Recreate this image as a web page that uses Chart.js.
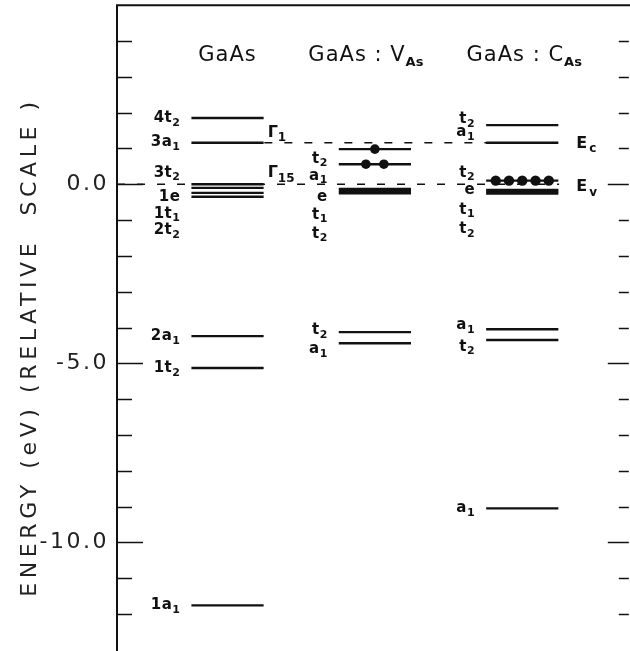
<!DOCTYPE html>
<html>
<head>
<meta charset="utf-8">
<script src="https://cdn.jsdelivr.net/npm/chart.js@4.4.1/dist/chart.umd.min.js"></script>
<style>
  html, body { margin: 0; padding: 0; background: #fff; overflow: hidden; }
  #wrap { position: absolute; left: 0; top: 0; width: 634px; height: 655px; }
</style>
</head>
<body>
<div id="wrap"><canvas id="levels" width="634" height="655"></canvas></div>
<script>
// --- data (energies in eV) ---
const columnTitles = ["GaAs", "GaAs : V", "GaAs : C"];
const columnSubs = ["", "As", "As"];

const gaasLevels = [1.85, 1.16, 0.0, -0.1, -0.24, -0.35, -4.24, -5.13, -11.76];
const vasLevels = [0.98, 0.56, -0.13, -0.19, -0.25, -4.13, -4.44];
const casLevels = [1.65, 1.16, 0.10, -0.16, -0.21, -0.26, -4.05, -4.35, -9.05];

// occupied gap levels and number of electrons (dots)
const vasFilled = [0.98, 0.56];
const vasElectrons = [1, 2];
const casFilled = [0.10];
const casElectrons = [5];

const ecLevel = 1.16;
const evLevel = 0.0;

const yTickValues = [0, -5, -10];
const yTickLabels = ["0.0", "-5.0", "-10.0"];

// level labels: [symbol, subscript, energy where the label sits]
const gaasLabels = [
  ["4t", "2", 1.85], ["3a", "1", 1.18], ["3t", "2", 0.32], ["1e", "", -0.35],
  ["1t", "1", -0.82], ["2t", "2", -1.29], ["2a", "1", -4.24], ["1t", "2", -5.13],
  ["1a", "1", -11.76]
];
const vasLabels = [
  ["t", "2", 0.71], ["a", "1", 0.24], ["e", "", -0.35], ["t", "1", -0.85],
  ["t", "2", -1.38], ["t", "2", -4.07], ["a", "1", -4.6]
];
const casLabels = [
  ["t", "2", 1.82], ["a", "1", 1.46], ["t", "2", 0.32], ["e", "", -0.15],
  ["t", "1", -0.71], ["t", "2", -1.26], ["a", "1", -3.93], ["t", "2", -4.54],
  ["a", "1", -9.04]
];

// --- layout helpers ---
const HALF = 0.245;        // half width of a level bar, in column units
const INK = "#111";
const FONT = '"DejaVu Sans", sans-serif';

function levelLine(col, e) {
    return {
        type: "line",
        data: [{ x: col - HALF, y: e }, { x: col + HALF, y: e }],
        borderColor: INK,
        borderWidth: 2.4,
        pointRadius: 0,
        order: 2
    };
}

function dots(col, energies, counts, spacing, r) {
    const pts = [];
    energies.forEach((e, k) => {
        const n = counts[k];
        for (let i = 0; i < n; i++) pts.push({ x: col + (i - (n - 1) / 2) * spacing, y: e });
    });
    return {
        type: "scatter",
        data: pts,
        pointRadius: r,
        pointBackgroundColor: INK,
        pointBorderWidth: 0,
        order: 0
    };
}

function dashed(x0, x1, e) {
    return {
        type: "line",
        data: [{ x: x0, y: e }, { x: x1, y: e }],
        borderColor: INK,
        borderWidth: 1.4,
        borderDash: [8, 12],
        pointRadius: 0,
        order: 3
    };
}

const datasets = [];
datasets.push(dashed(-0.75, 2.25, evLevel));
datasets.push(dashed(0.25, 2.25, ecLevel));
[gaasLevels, vasLevels, casLevels].forEach((lv, col) => lv.forEach(e => datasets.push(levelLine(col, e))));
datasets.push(dots(1, vasFilled, vasElectrons, 0.122, 4.8));
datasets.push(dots(2, casFilled, casElectrons, 0.09, 5.2));

function rich(ctx, x, y, base, sub, size, align, weight, spacing) {
    const subSize = Math.round(size * 0.72);
    ctx.letterSpacing = (spacing || 0) + "px";
    ctx.font = `${weight} ${size}px ${FONT}`;
    const wb = ctx.measureText(base).width;
    ctx.font = `${weight} ${subSize}px ${FONT}`;
    const ws = sub ? ctx.measureText(sub).width : 0;
    let x0 = x;
    if (align === "right") x0 = x - wb - ws;
    else if (align === "center") x0 = x - (wb + ws) / 2;
    ctx.textAlign = "left";
    ctx.textBaseline = "middle";
    ctx.font = `${weight} ${size}px ${FONT}`;
    ctx.fillText(base, x0, y);
    if (sub) {
        ctx.font = `${weight} ${subSize}px ${FONT}`;
        ctx.fillText(sub, x0 + wb, y + size * 0.32);
    }
}

const titleNudge = [0, -9, 2];

const decor = {
    id: "decor",
    beforeDraw(chart) {
        // wide lettering for the axis numbers
        chart.ctx.letterSpacing = "2.5px";
    },
    afterDraw(chart) {
        const { ctx, chartArea: a, scales: { x, y } } = chart;
        ctx.save();
        ctx.letterSpacing = "0px";
        ctx.strokeStyle = INK;
        ctx.fillStyle = INK;

        // frame: left and top
        ctx.lineWidth = 2;
        ctx.beginPath();
        ctx.moveTo(a.left, a.bottom + 5);
        ctx.lineTo(a.left, a.top);
        ctx.lineTo(a.right + 5, a.top);
        ctx.stroke();

        // inward ticks on both sides
        ctx.lineWidth = 1.4;
        y.ticks.forEach(t => {
            if (t.value <= y.min || t.value >= y.max) return;
            const py = Math.round(y.getPixelForValue(t.value)) + 0.5;
            const major = yTickValues.includes(t.value);
            ctx.beginPath();
            ctx.moveTo(a.left, py);
            ctx.lineTo(a.left + (major ? 26 : 15), py);
            ctx.moveTo(a.right, py);
            ctx.lineTo(a.right - (major ? 21 : 10), py);
            ctx.stroke();
        });

        // column titles
        const ty = 56;
        columnTitles.forEach((t, col) => {
            const cx = x.getPixelForValue(col) + titleNudge[col];
            ctx.letterSpacing = "1px";
            ctx.font = `21px ${FONT}`;
            const wb = ctx.measureText(t).width;
            let ws = 0;
            if (columnSubs[col]) {
                ctx.font = `bold 13px ${FONT}`;
                ctx.letterSpacing = "0px";
                ws = ctx.measureText(columnSubs[col]).width;
            }
            const x0 = cx - (wb + ws) / 2;
            ctx.textAlign = "left";
            ctx.textBaseline = "middle";
            ctx.letterSpacing = "1px";
            ctx.font = `21px ${FONT}`;
            ctx.fillText(t, x0, ty);
            if (ws) {
                ctx.letterSpacing = "0px";
                ctx.font = `bold 13px ${FONT}`;
                ctx.fillText(columnSubs[col], x0 + wb, ty + 7);
            }
        });

        // level labels, to the left of each column
        [gaasLabels, vasLabels, casLabels].forEach((labels, col) => {
            const lx = x.getPixelForValue(col - HALF) - 11;
            labels.forEach(([b, s, e]) => {
                rich(ctx, lx, y.getPixelForValue(e), b, s, 15, "right", "bold", 0.5);
            });
        });

        // symmetry labels and band edges
        const x0 = x.getPixelForValue(0 + HALF) + 4;
        rich(ctx, x0, y.getPixelForValue(ecLevel) - 10, "\u0393", "1", 16, "left", "bold", 0);
        rich(ctx, x0, y.getPixelForValue(evLevel) - 11, "\u0393", "15", 16, "left", "bold", 0);
        const ex = x.getPixelForValue(2 + HALF) + 18;
        rich(ctx, ex, y.getPixelForValue(ecLevel) + 1, "E", "c", 16, "left", "bold", 2);
        rich(ctx, ex, y.getPixelForValue(evLevel) + 3, "E", "v", 16, "left", "bold", 2);

        // axis title
        ctx.save();
        ctx.translate(30, 347);
        ctx.rotate(-Math.PI / 2);
        ctx.letterSpacing = "4.6px";
        ctx.font = `22px ${FONT}`;
        ctx.textAlign = "center";
        ctx.textBaseline = "middle";
        ctx.fillStyle = "#222";
        ctx.fillText("ENERGY (eV) (RELATIVE  SCALE )", 0, 0);
        ctx.restore();

        ctx.restore();
        ctx.letterSpacing = "0px";
    }
};

new Chart(document.getElementById("levels"), {
    data: { datasets },
    options: {
        responsive: false,
        animation: false,
        layout: { padding: { left: 0, top: 3.5, right: 3, bottom: 3.5 } },
        plugins: { legend: { display: false }, tooltip: { enabled: false } },
        scales: {
            x: { type: "linear", min: -0.75, max: 2.723, display: false },
            y: {
                type: "linear",
                min: -13,
                max: 5,
                grid: { display: false, drawTicks: false },
                border: { display: false },
                ticks: {
                    stepSize: 1,
                    autoSkip: false,
                    padding: 8,
                    color: "#222",
                    font: { family: "DejaVu Sans", size: 22 },
                    callback: v => {
                        const i = yTickValues.indexOf(v);
                        return i >= 0 ? yTickLabels[i] : "";
                    }
                },
                afterFit: s => {
                    s.width = 117;
                    s.paddingTop = 0;
                    s.paddingBottom = 0;
                }
            }
        }
    },
    plugins: [decor]
});
</script>
</body>
</html>
